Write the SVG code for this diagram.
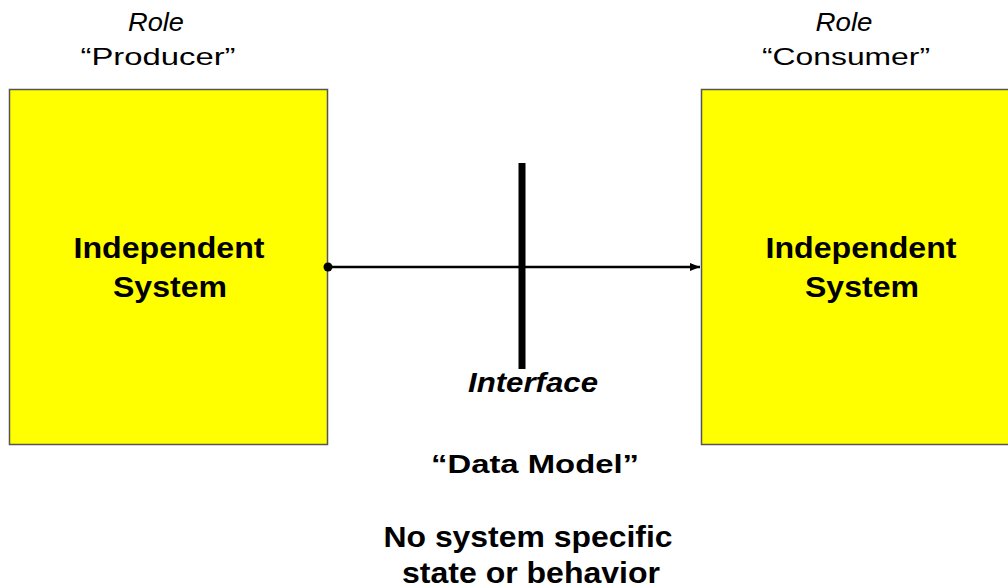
<svg xmlns="http://www.w3.org/2000/svg" width="1008" height="588" viewBox="0 0 1008 588">
<style>
text{font-family:"Liberation Sans",Arial,sans-serif;fill:#000;text-anchor:middle}
.role{font-size:25px;font-style:italic}
.name{font-size:24px}
.sys{font-size:29px;font-weight:bold}
.box{fill:#ffff00;stroke:#555;stroke-width:1.5}
.lbl{font-weight:bold}
</style>
<defs>
<marker id="arr" markerWidth="10" markerHeight="8" refX="10" refY="4" orient="auto" markerUnits="userSpaceOnUse">
<path d="M0,0 L10,4 L0,8 Z" fill="#000"/>
</marker>
</defs>
<rect width="1008" height="588" fill="#fff"/>
<g id="producer">
<text class="role" x="156" y="31" textLength="56" lengthAdjust="spacingAndGlyphs">Role</text>
<text class="name" x="158" y="65" textLength="155" lengthAdjust="spacingAndGlyphs">“Producer”</text>
<rect class="box" x="9.5" y="89.5" width="318" height="355"/>
<text class="sys" x="169" y="258" textLength="191" lengthAdjust="spacingAndGlyphs">Independent</text>
<text class="sys" x="170" y="297" textLength="114" lengthAdjust="spacingAndGlyphs">System</text>
</g>
<g id="consumer">
<text class="role" x="844" y="31" textLength="57" lengthAdjust="spacingAndGlyphs">Role</text>
<text class="name" x="846" y="65" textLength="168" lengthAdjust="spacingAndGlyphs">“Consumer”</text>
<rect class="box" x="701.5" y="89.5" width="320" height="355"/>
<text class="sys" x="861" y="258" textLength="191" lengthAdjust="spacingAndGlyphs">Independent</text>
<text class="sys" x="862" y="297" textLength="114" lengthAdjust="spacingAndGlyphs">System</text>
</g>
<g id="interface">
<rect x="518.5" y="163" width="7" height="206" fill="#000"/>
<text class="lbl" x="533" y="392" font-size="28" font-style="italic" textLength="130" lengthAdjust="spacingAndGlyphs">Interface</text>
<text class="lbl" x="535" y="473" font-size="26" textLength="208" lengthAdjust="spacingAndGlyphs">“Data Model”</text>
<text class="lbl" x="528" y="547" font-size="30" textLength="289" lengthAdjust="spacingAndGlyphs">No system specific</text>
<text class="lbl" x="531" y="583" font-size="30" textLength="258" lengthAdjust="spacingAndGlyphs">state or behavior</text>
</g>
<g id="connectors">
<circle cx="328" cy="267" r="4.5" fill="#000"/>
<line x1="328" y1="267" x2="700" y2="267" stroke="#000" stroke-width="2.5" marker-end="url(#arr)"/>
</g>
</svg>
